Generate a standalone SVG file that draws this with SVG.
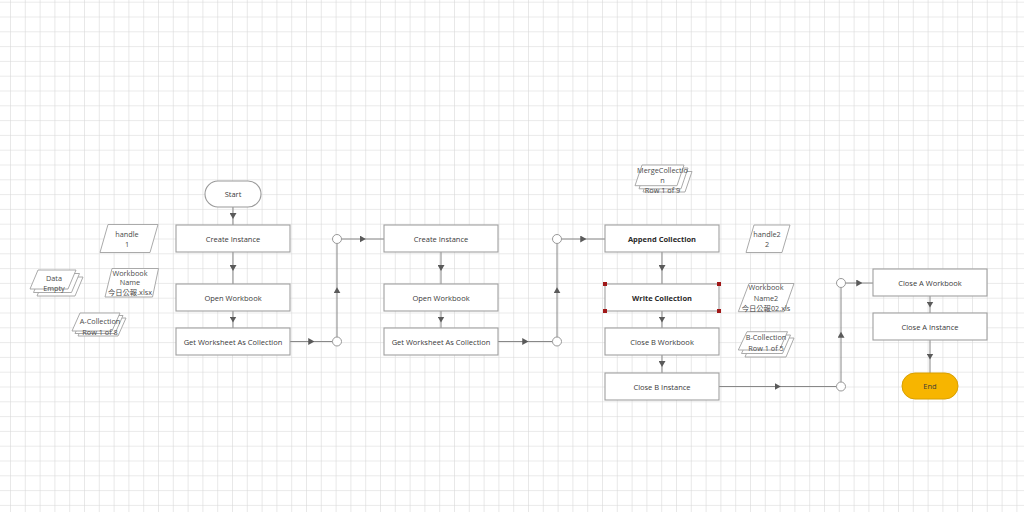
<svg xmlns="http://www.w3.org/2000/svg" xmlns:xlink="http://www.w3.org/1999/xlink" width="1024" height="512" viewBox="0 0 1024 512">
<defs>
<pattern id="grid" patternUnits="userSpaceOnUse" x="10" y="1.7" width="14.8" height="14.8">
<path d="M14.8,0 L0,0 L0,14.8" fill="none" stroke="#d6d6d6" stroke-width="1.1"/>
</pattern>
<marker id="ah" viewBox="0 0 6 7" refX="3" refY="3.5" markerWidth="6" markerHeight="7" markerUnits="userSpaceOnUse" orient="auto">
<path d="M0,0 L6,3.5 L0,7 Z" fill="#5a5a5a"/>
</marker>
<style>
.box{fill:#fff;stroke:#a0a0a0;stroke-width:1.1}
.term{fill:#fff;stroke:#9a9a9a;stroke-width:1.1}
.end{fill:#f7b500;stroke:#d9a000;stroke-width:1}
.data{fill:#fff;stroke:#a0a0a0;stroke-width:0.9}
.lbl{font-family:"Open Sans","Noto Sans CJK SC",sans-serif;font-size:7.5px;fill:#3a3a3a;text-anchor:middle;dominant-baseline:central}
.b{font-weight:bold;fill:#2a2a2a}
.d{font-family:"Open Sans","Noto Sans CJK TC",sans-serif;font-size:7.3px;fill:#4a4a4a;text-anchor:middle;dominant-baseline:central}
.con{fill:none;stroke:#888;stroke-width:1;marker-mid:url(#ah)}
.jn{fill:#fff;stroke:#999;stroke-width:1}
.sel{fill:#a01818}
</style>
</defs>
<rect width="1024" height="512" fill="#fff"/>
<rect width="1024" height="512" fill="url(#grid)"/>

<g id="connectors">
<path class="con" d="M233,207 L233,216 L233,225"/>
<path class="con" d="M233,252 L233,268 L233,284"/>
<path class="con" d="M233,311 L233,319.5 L233,328"/>
<path class="con" d="M290,341.5 L311.25,341.5 L332.5,341.5"/>
<path class="con" d="M337,337 L337,290.25 L337,243.5"/>
<path class="con" d="M341.5,239 L362.75,239 L384,239"/>
<path class="con" d="M441,252 L441,268 L441,284"/>
<path class="con" d="M441,311 L441,319.5 L441,328"/>
<path class="con" d="M498,341.5 L525.25,341.5 L552.5,341.5"/>
<path class="con" d="M557,337 L557,290.25 L557,243.5"/>
<path class="con" d="M561.5,239 L583.25,239 L605,239"/>
<path class="con" d="M662,252 L662,268 L662,284"/>
<path class="con" d="M662,311 L662,319.5 L662,328"/>
<path class="con" d="M662,355 L662,364 L662,373"/>
<path class="con" d="M719,386.5 L777.75,386.5 L836.5,386.5"/>
<path class="con" d="M841,382 L841,334.75 L841,287.5"/>
<path class="con" d="M845.5,283 L859.25,283 L873,283"/>
<path class="con" d="M930,296 L930,304.5 L930,313"/>
<path class="con" d="M930,340 L930,356.5 L930,373"/>
<circle class="jn" cx="337" cy="341.5" r="4.5"/>
<circle class="jn" cx="337" cy="239" r="4.5"/>
<circle class="jn" cx="557" cy="341.5" r="4.5"/>
<circle class="jn" cx="557" cy="239" r="4.5"/>
<circle class="jn" cx="841" cy="386.5" r="4.5"/>
<circle class="jn" cx="841" cy="283" r="4.5"/>
</g>

<g id="start"><rect class="term" x="205" y="181" width="56" height="26" rx="13"/><text class="lbl" x="233" y="194">Start</text></g>
<g id="create1"><rect class="box" x="176" y="225" width="114" height="27"/><text class="lbl" x="233" y="238.5">Create Instance</text></g>
<g id="open1"><rect class="box" x="176" y="284" width="114" height="27"/><text class="lbl" x="233" y="297.5">Open Workbook</text></g>
<g id="getws1"><rect class="box" x="176" y="328" width="114" height="27"/><text class="lbl" x="233" y="341.5">Get Worksheet As Collection</text></g>

<g id="create2"><rect class="box" x="384" y="225" width="114" height="27"/><text class="lbl" x="441" y="238.5">Create Instance</text></g>
<g id="open2"><rect class="box" x="384" y="284" width="114" height="27"/><text class="lbl" x="441" y="297.5">Open Workbook</text></g>
<g id="getws2"><rect class="box" x="384" y="328" width="114" height="27"/><text class="lbl" x="441" y="341.5">Get Worksheet As Collection</text></g>

<g id="append"><rect class="box" x="605" y="225" width="114" height="27"/><text class="lbl b" x="662" y="238.5">Append Collection</text></g>
<g id="write"><rect class="box" x="605" y="284" width="114" height="27"/><text class="lbl b" x="662" y="297.5">Write Collection</text>
<rect class="sel" x="603" y="282" width="4" height="4"/><rect class="sel" x="717" y="282" width="4" height="4"/><rect class="sel" x="603" y="309" width="4" height="4"/><rect class="sel" x="717" y="309" width="4" height="4"/></g>
<g id="closebwb"><rect class="box" x="605" y="328" width="114" height="27"/><text class="lbl" x="662" y="341.5">Close B Workbook</text></g>
<g id="closebin"><rect class="box" x="605" y="373" width="114" height="27"/><text class="lbl" x="662" y="386.5">Close B Instance</text></g>

<g id="closeawb"><rect class="box" x="873" y="269" width="114" height="27"/><text class="lbl" x="930" y="282.5">Close A Workbook</text></g>
<g id="closeain"><rect class="box" x="873" y="313" width="114" height="27"/><text class="lbl" x="930" y="326.5">Close A Instance</text></g>
<g id="end"><rect class="end" x="902" y="373" width="56" height="26" rx="13"/><text class="lbl" x="930" y="386">End</text></g>

<g id="handle1"><polygon class="data" points="108,224.5 158,224.5 150,252.5 100,252.5"/><text class="d" x="127" y="234">handle</text><text class="d" x="127" y="244">1</text></g>
<g id="dataempty"><polygon class="data" points="45,277 83,277 75,296 37,296"/><polygon class="data" points="41.5,273.5 79.5,273.5 71.5,292.5 33.5,292.5"/><polygon class="data" points="38,270 76,270 68,289 30,289"/><text class="d" x="54" y="277.5">Data</text><text class="d" x="54" y="288">Empty</text></g>
<g id="wbname"><polygon class="data" points="112,268.5 158.5,268.5 152.5,297 105,297"/><text class="d" x="130" y="272.5">Workbook</text><text class="d" x="130" y="282.3">Name</text><text class="d" x="130" y="292">今日公報.xlsx</text></g>
<g id="acoll"><polygon class="data" points="86,318 126,318 118,336 78,336"/><polygon class="data" points="83,315.5 123,315.5 115,333.5 75,333.5"/><polygon class="data" points="80,313 120,313 112,331 72,331"/><text class="d" x="100" y="321">A-Collection</text><text class="d" x="100" y="331.5">Row 1 of 8</text></g>

<g id="mergecoll"><polygon class="data" points="650,171.5 692,171.5 685,192 643,192"/><polygon class="data" points="646,168 688,168 681,188.8 639,188.8"/><polygon class="data" points="642,165 684,165 677,185.7 635,185.7"/><text class="d" x="662.5" y="169.5">MergeCollectio</text><text class="d" x="662.5" y="180">n</text><text class="d" x="662.5" y="190">Row 1 of 9</text></g>
<g id="handle2"><polygon class="data" points="754,225 790,225 782,252.5 746,252.5"/><text class="d" x="767" y="233.5">handle2</text><text class="d" x="767" y="244.3">2</text></g>
<g id="wbname2"><polygon class="data" points="749,283.5 794,283.5 784,311.7 738.3,311.7"/><text class="d" x="766" y="287">Workbook</text><text class="d" x="766" y="298">Name2</text><text class="d" x="766" y="308.3">今日公報02.xls</text></g>
<g id="bcoll"><polygon class="data" points="753,338 794,338 786,357 745,357"/><polygon class="data" points="750,335 790.5,335 782.5,353.5 741.5,353.5"/><polygon class="data" points="747,331.7 787.5,331.7 779.5,350 738.3,350"/><text class="d" x="766" y="337">B-Collection</text><text class="d" x="766" y="347.5">Row 1 of 5</text></g>
</svg>
